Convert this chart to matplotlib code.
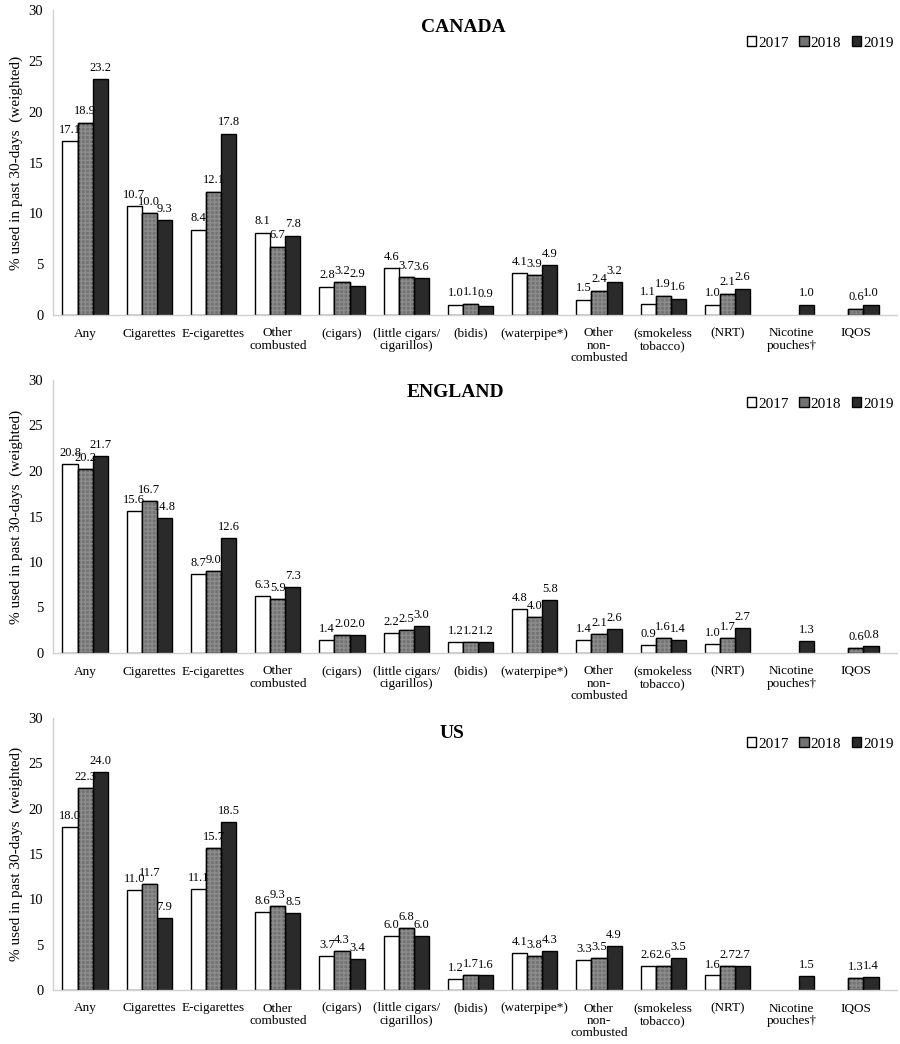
import matplotlib
matplotlib.use("Agg")
import matplotlib.pyplot as plt
import numpy as np

plt.rcParams['font.family'] = ['Liberation Serif', 'DejaVu Serif']

categories = ["Any", "Cigarettes", "E-cigarettes", "Other\ncombusted", "(cigars)",
              "(little cigars/\ncigarillos)", "(bidis)", "(waterpipe*)", "Other\nnon-\ncombusted",
              "(smokeless\ntobacco)", "(NRT)", "Nicotine\npouches\u2020", "IQOS"]
years = ["2017", "2018", "2019"]
N = None

canada_2017 = [17.1, 10.7, 8.4, 8.1, 2.8, 4.6, 1.0, 4.1, 1.5, 1.1, 1.0, N, N]
canada_2018 = [18.9, 10.0, 12.1, 6.7, 3.2, 3.7, 1.1, 3.9, 2.4, 1.9, 2.1, N, 0.6]
canada_2019 = [23.2, 9.3, 17.8, 7.8, 2.9, 3.6, 0.9, 4.9, 3.2, 1.6, 2.6, 1.0, 1.0]

england_2017 = [20.8, 15.6, 8.7, 6.3, 1.4, 2.2, 1.2, 4.8, 1.4, 0.9, 1.0, N, N]
england_2018 = [20.2, 16.7, 9.0, 5.9, 2.0, 2.5, 1.2, 4.0, 2.1, 1.6, 1.7, N, 0.6]
england_2019 = [21.7, 14.8, 12.6, 7.3, 2.0, 3.0, 1.2, 5.8, 2.6, 1.4, 2.7, 1.3, 0.8]

us_2017 = [18.0, 11.0, 11.1, 8.6, 3.7, 6.0, 1.2, 4.1, 3.3, 2.6, 1.6, N, N]
us_2018 = [22.3, 11.7, 15.7, 9.3, 4.3, 6.8, 1.7, 3.8, 3.5, 2.6, 2.7, N, 1.3]
us_2019 = [24.0, 7.9, 18.5, 8.5, 3.4, 6.0, 1.6, 4.3, 4.9, 3.5, 2.7, 1.5, 1.4]

panels = [("CANADA", [canada_2017, canada_2018, canada_2019]),
          ("ENGLAND", [england_2017, england_2018, england_2019]),
          ("US", [us_2017, us_2018, us_2019])]

colors = ["#ffffff", "#737373", "#2a2a2a"]
W, H = 900, 1044
fig = plt.figure(figsize=(W/100, H/100), dpi=100)

tops = [10, 380, 718]
bottoms = [315, 653, 990]
title_pos = [(463, 27), (455, 392), (452, 733)]
legend_y = [43, 404, 744]
left, right = 53, 897
xmax = 12.64
bw = 0.235
x = np.arange(len(categories))

for k, ((title, series), t, b) in enumerate(zip(panels, tops, bottoms)):
    ax = fig.add_axes([left/W, 1-b/H, (right-left)/W, (b-t)/H])
    for i, (yr, vals) in enumerate(zip(years, series)):
        xs = [xi + (i-1)*bw for xi, v in zip(x, vals) if v is not None]
        vs = [v for v in vals if v is not None]
        ax.bar(xs, vs, width=bw, color=colors[i], edgecolor="black",
               linewidth=1.0, label=yr, zorder=2)
        if i == 1:
            ax.bar(xs, vs, width=bw, color="none", edgecolor="#8c8c8c",
                   hatch="++++", linewidth=0, zorder=3)
            ax.bar(xs, vs, width=bw, color="none", edgecolor="black",
                   linewidth=1.0, zorder=4)
        for xx, v in zip(xs, vs):
            ax.text(xx, v + 0.55, f"{v:.1f}", ha="center", va="bottom",
                    fontsize=9, zorder=5)
    ax.set_ylim(0, 30)
    ax.set_xlim(-0.5, xmax)
    ax.set_yticks([0, 5, 10, 15, 20, 25, 30])
    ax.tick_params(axis="y", length=0, labelsize=10.5, pad=7)
    ax.set_xticks(x)
    ax.set_xticklabels(categories, fontsize=9.5, linespacing=1.05)
    ax.tick_params(axis="x", length=0, pad=9)
    for s in ["top", "right"]:
        ax.spines[s].set_visible(False)
    for s in ["left", "bottom"]:
        ax.spines[s].set_color("#d0d0d0")
        ax.spines[s].set_linewidth(1.0)
    ax.set_ylabel("% used in past 30-days  (weighted)", fontsize=11)
    ax.yaxis.set_label_coords((23 - left) / (right - left), 0.5)
    tx, ty = title_pos[k]
    fig.text(tx/W, 1-ty/H, title, ha="center", va="center",
             fontsize=14, fontweight="bold")
    h, l = ax.get_legend_handles_labels()
    fig.legend(h[:3], l[:3], loc="center right", bbox_to_anchor=(894/W, 1-legend_y[k]/H),
               ncol=3, frameon=False, fontsize=11, handlelength=0.6, handleheight=0.6,
               handletextpad=0.15, columnspacing=0.7, borderaxespad=0, borderpad=0)

fig.savefig("out.png", dpi=100)
